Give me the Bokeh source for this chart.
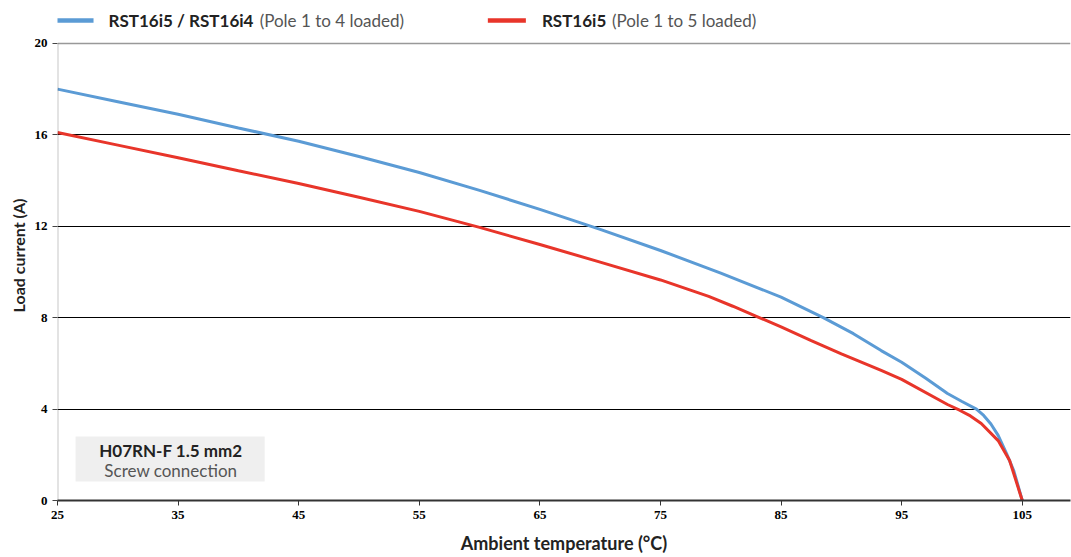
from bokeh.plotting import figure
from bokeh.models import Range1d, FixedTicker, Span, BoxAnnotation, Label
from bokeh.embed import file_html
from bokeh.resources import INLINE

blue_x = [25, 30, 35, 40, 45, 50, 55, 60, 65, 70, 75, 80, 85, 88.5, 91, 93.3, 95, 97, 98.8, 100, 101.2, 101.8, 102.4, 103, 103.7, 104.3, 105]
blue_y = [18.0, 17.45, 16.9, 16.3, 15.72, 15.05, 14.35, 13.57, 12.74, 11.86, 10.94, 9.95, 8.9, 8.0, 7.3, 6.56, 6.05, 5.35, 4.68, 4.33, 4.0, 3.72, 3.35, 2.85, 2.05, 1.3, 0]
red_x = [25, 30, 35, 40, 45, 50, 55, 60, 65, 70, 75, 79, 81, 83, 85, 87.5, 90, 93.3, 95, 98.8, 99.8, 100.7, 101.6, 103.0, 103.95, 105]
red_y = [16.1, 15.55, 15.0, 14.43, 13.87, 13.27, 12.65, 11.95, 11.2, 10.43, 9.65, 8.93, 8.5, 8.05, 7.6, 7.0, 6.42, 5.69, 5.3, 4.2, 3.95, 3.7, 3.37, 2.62, 1.75, 0]
x_ticks = [25, 35, 45, 55, 65, 75, 85, 95, 105]
y_ticks = [0, 4, 8, 12, 16, 20]
grid_ticks = [4, 8, 12, 16]

BLUE = "#5b9bd5"
RED = "#e8352a"
FONT = "Lato"

p = figure(width=1071, height=557, output_backend="svg", toolbar_location=None,
           x_range=Range1d(25, 109.0), y_range=Range1d(0, 21.44),
           min_border_left=57, min_border_right=1, min_border_top=10, min_border_bottom=57)
p.outline_line_color = None
p.xgrid.grid_line_color = None
p.ygrid.ticker = FixedTicker(ticks=grid_ticks)
p.ygrid.grid_line_color = "black"
p.ygrid.grid_line_width = 1

p.add_layout(Span(location=20, dimension="width", line_color="#999999", line_width=1.5))

for ax in (p.xaxis[0], p.yaxis[0]):
    ax.major_label_text_font = "Liberation Serif"
    ax.major_label_text_font_style = "bold"
    ax.major_label_text_font_size = "13px"
    ax.major_label_text_color = "black"
    ax.minor_tick_line_color = None
    ax.major_tick_in = 0
    ax.major_tick_out = 5
    ax.axis_label_text_font = FONT
    ax.axis_label_text_font_style = "bold"
    ax.axis_label_text_color = "#222222"

p.xaxis.axis_label_text_font_size = "18px"
p.yaxis.axis_label_text_font_size = "16px"
p.xaxis.ticker = FixedTicker(ticks=x_ticks)
p.yaxis.ticker = FixedTicker(ticks=y_ticks)
p.xaxis.axis_line_color = "#333333"
p.xaxis.axis_line_width = 2
p.xaxis.major_tick_line_color = "#333333"
p.yaxis.axis_line_color = None
p.yaxis.major_tick_line_color = "#444444"
p.xaxis.axis_label = "Ambient temperature (°C)"
p.yaxis.axis_label = "Load current (A)"
p.xaxis.major_label_standoff = 5
p.yaxis.major_label_standoff = 5
p.xaxis.axis_label_standoff = 10
p.yaxis.axis_label_standoff = 4

# y axis line from 0 to 20
p.add_layout(BoxAnnotation(left=25, right=25, bottom=0, top=20, fill_alpha=0,
                           line_color="#444444", line_width=2))

p.line(blue_x, blue_y, line_color=BLUE, line_width=3)
p.line(red_x, red_y, line_color=RED, line_width=3)

# info box
p.add_layout(BoxAnnotation(left=26.5, right=42.18, bottom=0.83, top=2.8,
                           fill_color="#efefef", fill_alpha=1, line_color=None))
p.add_layout(Label(x=34.4, y=2.19, text="H07RN-F 1.5 mm2", text_font=FONT, text_font_style="bold",
                   text_font_size="17px", text_color="#222222", text_align="center", text_baseline="middle"))
p.add_layout(Label(x=34.4, y=1.31, text="Screw connection", text_font=FONT,
                   text_font_size="17px", text_color="#555555", text_align="center", text_baseline="middle"))

# legend
ly = 21.0
def xd(px):
    return 25 + (px - 57) / 12.05

p.add_layout(BoxAnnotation(left=xd(55), right=xd(93), bottom=ly - 0.1, top=ly + 0.1,
                           fill_color=BLUE, fill_alpha=1, line_color=None))
p.add_layout(BoxAnnotation(left=xd(487), right=xd(525), bottom=ly - 0.1, top=ly + 0.1,
                           fill_color=RED, fill_alpha=1, line_color=None))
p.add_layout(Label(x=xd(108), y=ly, text="RST16i5 / RST16i4", text_font=FONT, text_font_style="bold",
                   text_font_size="17px", text_color="#222222", text_baseline="middle"))
p.add_layout(Label(x=xd(259), y=ly, text="(Pole 1 to 4 loaded)", text_font=FONT,
                   text_font_size="17px", text_color="#555555", text_baseline="middle"))
p.add_layout(Label(x=xd(541), y=ly, text="RST16i5", text_font=FONT, text_font_style="bold",
                   text_font_size="17px", text_color="#222222", text_baseline="middle"))
p.add_layout(Label(x=xd(611), y=ly, text="(Pole 1 to 5 loaded)", text_font=FONT,
                   text_font_size="17px", text_color="#555555", text_baseline="middle"))

open("out.html", "w").write(file_html(p, INLINE))
